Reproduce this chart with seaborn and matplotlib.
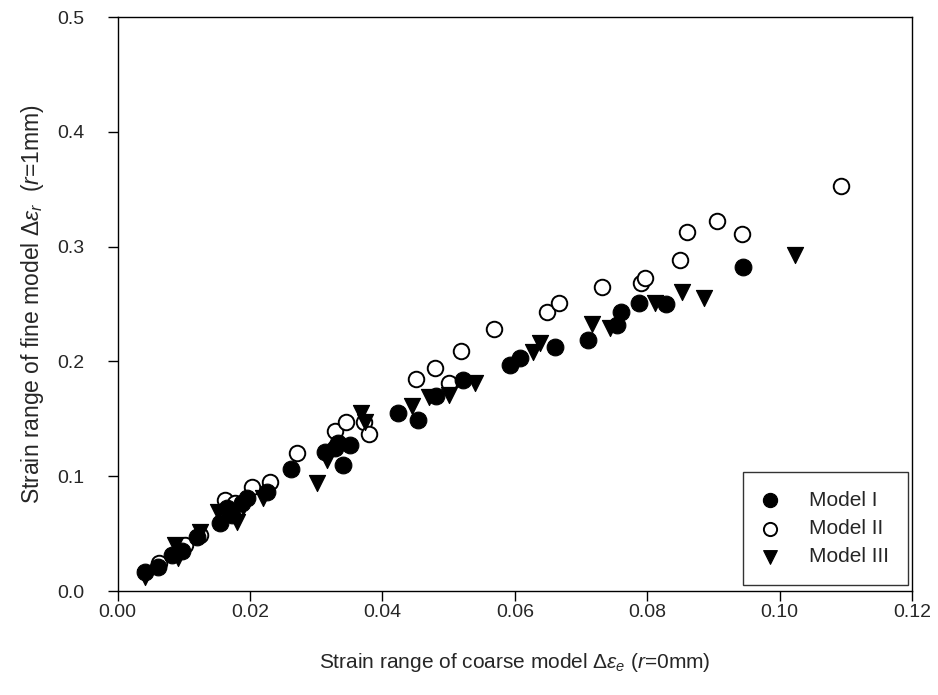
import pandas as pd
import numpy as np
import matplotlib.pyplot as plt
import seaborn as sns

# Model I (filled circles)
m1_x = [0.0041, 0.0061, 0.0082, 0.0097, 0.0120, 0.0155, 0.0165, 0.0173, 0.0188, 0.0195,
        0.0226, 0.0262, 0.0313, 0.0328, 0.0333, 0.0351, 0.0341, 0.0424, 0.0453, 0.0481,
        0.0522, 0.0592, 0.0607, 0.0660, 0.0711, 0.0755, 0.0761, 0.0787, 0.0828, 0.0945]
m1_y = [0.0163, 0.0206, 0.031, 0.035, 0.047, 0.059, 0.072, 0.066, 0.077, 0.081,
        0.086, 0.106, 0.121, 0.125, 0.129, 0.127, 0.1095, 0.155, 0.149, 0.1697,
        0.1837, 0.197, 0.203, 0.213, 0.219, 0.2317, 0.243, 0.2505, 0.250, 0.282]

# Model II (open circles)
m2_x = [0.0063, 0.0102, 0.0125, 0.0162, 0.0177, 0.0203, 0.0230, 0.0271, 0.0329, 0.0345,
        0.0372, 0.0380, 0.0451, 0.0480, 0.0501, 0.0519, 0.0568, 0.0649, 0.0666, 0.0731,
        0.0790, 0.0797, 0.0849, 0.0860, 0.0906, 0.0943, 0.1092]
m2_y = [0.024, 0.0398, 0.049, 0.079, 0.077, 0.0905, 0.095, 0.120, 0.139, 0.147,
        0.147, 0.1366, 0.1846, 0.194, 0.181, 0.209, 0.228, 0.243, 0.251, 0.265,
        0.268, 0.2725, 0.288, 0.313, 0.322, 0.311, 0.353]

# Model III (filled down triangles)
m3_x = [0.0041, 0.0087, 0.0091, 0.0125, 0.0152, 0.0180, 0.0190, 0.0220, 0.0301, 0.0316,
        0.0368, 0.0374, 0.0445, 0.0470, 0.0500, 0.0540, 0.0627, 0.0638, 0.0716, 0.0744,
        0.0812, 0.0853, 0.0885, 0.1023]
m3_y = [0.012, 0.040, 0.029, 0.051, 0.0685, 0.060, 0.073, 0.081, 0.094, 0.114,
        0.155, 0.147, 0.161, 0.169, 0.1706, 0.181, 0.208, 0.216, 0.233, 0.229,
        0.2505, 0.2605, 0.255, 0.2925]

sns.set_style("ticks")
plt.rcParams['font.family'] = ['Liberation Sans', 'DejaVu Sans']
plt.rcParams['mathtext.fontset'] = 'custom'
plt.rcParams['mathtext.rm'] = 'Liberation Sans'
plt.rcParams['mathtext.it'] = 'Liberation Sans:italic'

fig = plt.figure(figsize=(9.38, 6.95), dpi=100)
ax = fig.add_axes([0.1255, 0.1496, 0.8468, 0.8259])

d1 = pd.DataFrame({"x": m1_x, "y": m1_y})
d2 = pd.DataFrame({"x": m2_x, "y": m2_y})
d3 = pd.DataFrame({"x": m3_x, "y": m3_y})

sns.scatterplot(data=d2, x="x", y="y", marker="o", s=125, facecolor="white",
                edgecolor="black", linewidth=1.4, ax=ax, label="Model II", zorder=2)
sns.scatterplot(data=d1, x="x", y="y", marker="o", s=145, color="black",
                edgecolor="black", linewidth=0.8, ax=ax, label="Model I", zorder=3)
sns.scatterplot(data=d3, x="x", y="y", marker="v", s=135, color="black",
                edgecolor="black", linewidth=0.8, ax=ax, label="Model III", zorder=4)

ax.set_xlim(0, 0.12)
ax.set_ylim(0, 0.5)
xt = np.arange(0, 0.121, 0.02)
yt = np.arange(0, 0.51, 0.1)
ax.set_xticks(xt)
ax.set_yticks(yt)
ax.set_xticklabels([f"{v:.2f}" for v in xt])
ax.set_yticklabels([f"{v:.1f}" for v in yt])
ax.tick_params(direction="out", length=7, width=1, labelsize=14, color="black")
ax.tick_params(axis="x", pad=2)
ax.tick_params(axis="y", pad=17)
for sp in ax.spines.values():
    sp.set_visible(True)
    sp.set_color("black")
    sp.set_linewidth(1)

ax.set_xlabel("Strain range of coarse model $\\mathit{Δε_e}$ ($\\mathit{r}$=0mm)",
              fontsize=15, labelpad=22)
ax.set_ylabel("Strain range of fine model $\\mathit{Δε_r}$  ($\\mathit{r}$=1mm)",
              fontsize=16.5, labelpad=8)

handles, labels = ax.get_legend_handles_labels()
order = [labels.index(l) for l in ["Model I", "Model II", "Model III"]]
leg = ax.legend([handles[i] for i in order], [labels[i] for i in order],
                loc="lower right", bbox_to_anchor=(0.995, 0.0105), fontsize=15,
                frameon=True, fancybox=False, edgecolor="black", borderpad=0.9,
                handlelength=0.8, handletextpad=1.5, labelspacing=0.44,
                borderaxespad=0, markerscale=0.85)
leg.get_frame().set_linewidth(1)

fig.savefig("out.png", dpi=100)
